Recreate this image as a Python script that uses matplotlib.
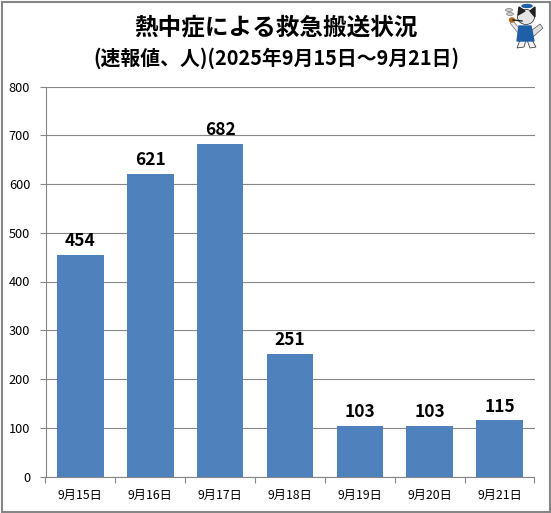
import matplotlib
matplotlib.use("Agg")
import matplotlib.pyplot as plt
from matplotlib.patches import Rectangle, Ellipse, Polygon

plt.rcParams['font.family'] = ['Noto Sans CJK JP', 'DejaVu Sans']

dates = ['9月15日', '9月16日', '9月17日', '9月18日', '9月19日', '9月20日', '9月21日']
cases = [454, 621, 682, 251, 103, 103, 115]
y_ticks = [0, 100, 200, 300, 400, 500, 600, 700, 800]
title_line1 = '熱中症による救急搬送状況'
title_line2 = '(速報値、人)(2025年9月15日～9月21日)'

W, H = 551, 513
GRAY = '#868686'
BAR = '#4F81BD'
fig = plt.figure(figsize=(W / 100, H / 100), dpi=100, facecolor='white')

L, R, T, B = 45.5, 534.5, 86.5, 476.5
ax = fig.add_axes([L / W, 1 - B / H, (R - L) / W, (B - T) / H])
x = list(range(len(dates)))
ax.bar(x, cases, width=0.665, color=BAR, zorder=3)
ax.set_xlim(-0.5, len(dates) - 0.5)
ax.set_ylim(0, 800)
ax.set_yticks(y_ticks)
ax.set_xticks([i - 0.5 for i in range(len(dates) + 1)], labels=[''] * (len(dates) + 1))
ax.set_xticks(x, labels=dates, minor=True)
ax.tick_params(axis='x', which='major', length=4.5, width=0.8, color=GRAY)
ax.tick_params(axis='x', which='minor', length=0, labelsize=8.8, pad=9)
ax.tick_params(axis='y', length=4.5, width=0.8, color=GRAY, labelsize=9.2, pad=6.5)
ax.grid(axis='y', color=GRAY, linewidth=0.8, zorder=1)
ax.set_axisbelow(True)
for s in ['top', 'right']:
    ax.spines[s].set_visible(False)
for s in ['left', 'bottom']:
    ax.spines[s].set_color(GRAY)
    ax.spines[s].set_linewidth(0.8)
for xi, v in zip(x, cases):
    ax.annotate(str(v), (xi, v), xytext=(0, 3.5), textcoords='offset points',
                ha='center', va='bottom', fontsize=12.5, fontweight='bold', color='black')

fig.text(276 / W, 1 - 27 / H, title_line1, ha='center', va='center',
         fontsize=17, fontweight='bold')
fig.text(276 / W, 1 - 58 / H, title_line2, ha='center', va='center',
         fontsize=14.3, fontweight='bold')

ov = fig.add_axes([0, 0, 1, 1], facecolor='none')
ov.set_xlim(0, W)
ov.set_ylim(H, 0)
ov.axis('off')
ov.add_patch(Rectangle((1.5, 1.5), W - 3, H - 3, fill=False, ec=GRAY, lw=1.5))
# mascot
ov.add_patch(Polygon([(532, 30), (540, 24), (543, 28), (533, 37)], fc='#DDDDDD', ec='#333333', lw=0.4))
ov.add_patch(Polygon([(519, 28), (513, 21), (510, 23), (518, 33)], fc='#E8E8E8', ec='#555555', lw=0.4))
ov.add_patch(Polygon([(520, 40), (526, 40), (524, 47), (517, 48)], fc='#F2F2F2', ec='#222222', lw=0.5))
ov.add_patch(Polygon([(527, 40), (532, 40), (536, 47), (530, 48)], fc='#F2F2F2', ec='#222222', lw=0.5))
ov.add_patch(Polygon([(519, 26), (531, 26), (534, 41), (517, 41)], color='#1F5FA8'))
ov.add_patch(Ellipse((526, 17), 17, 15, fc='#E4E4E4', ec='#222222', lw=0.5))
ov.add_patch(Polygon([(518, 15), (519, 7), (525, 11)], color='#222222'))
ov.add_patch(Polygon([(530, 11), (535, 7), (535, 17)], color='#222222'))
ov.add_patch(Ellipse((527, 6), 10, 3, color='#1F5FA8'))
ov.add_patch(Ellipse((512, 20), 5, 4, color='#B5651D'))
ov.plot([513, 522], [20, 21], color='#222222', lw=1)
ov.add_patch(Ellipse((509, 10), 7, 3, fc='#CCCCCC', ec='#666666', lw=0.4))
ov.add_patch(Ellipse((510, 14), 7, 3, fc='#CCCCCC', ec='#666666', lw=0.4))

fig.savefig('out.png', dpi=100)
